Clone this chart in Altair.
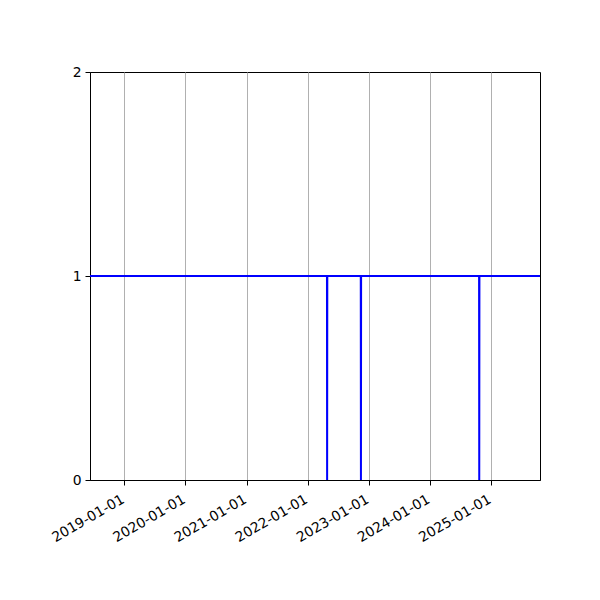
import pandas as pd
import altair as alt

# step series: 1 most of the time, three single-day drops to 0
DATES = ['2018-06-10',
         '2022-04-26', '2022-04-27', '2022-04-28',
         '2022-11-14', '2022-11-15', '2022-11-16',
         '2024-10-21', '2024-10-22', '2024-10-23',
         '2025-10-20']
VALUES = [1,
          1, 0, 1,
          1, 0, 1,
          1, 0, 1,
          1]
YEAR_TICKS = [2019, 2020, 2021, 2022, 2023, 2024, 2025]
Y_TICKS = [0, 1, 2]

df = pd.DataFrame({'date': pd.to_datetime(DATES), 'value': VALUES})

chart = alt.Chart(df).mark_line(color='#0000ff', strokeWidth=2, strokeJoin='miter').encode(
    x=alt.X('date:T',
            scale=alt.Scale(nice=False, padding=0),
            axis=alt.Axis(title=None,
                          values=[alt.DateTime(year=y, month=1, date=1) for y in YEAR_TICKS],
                          format='%Y-%m-%d',
                          labelAngle=-30, labelAlign='right', labelBaseline='top',
                          labelPadding=7, labelOffset=-5, labelOverlap=False, labelFlush=False,
                          grid=True, gridColor='#b0b0b0', gridWidth=1,
                          tickColor='black', tickSize=5, domainColor='black',
                          labelFont='DejaVu Sans', labelFontSize=13.9, labelColor='black')),
    y=alt.Y('value:Q',
            scale=alt.Scale(domain=[0, 2], nice=False, zero=False),
            axis=alt.Axis(title=None, values=Y_TICKS, tickCount=3, grid=False,
                          labelExpr="format(datum.value, 'd')",
                          labelOverlap=False, labelFlush=False,
                          tickColor='black', tickSize=5, domainColor='black',
                          labelPadding=4, labelFont='DejaVu Sans', labelFontSize=13.9,
                          labelColor='black')),
).properties(
    width=450, height=408,
    padding={'left': 82, 'top': 64, 'right': 52, 'bottom': 104},
    autosize=alt.AutoSizeParams(type='none'),
).configure_view(stroke='black', strokeWidth=1)

chart.save("out.html", embed_options={"renderer": "svg", "actions": False})
